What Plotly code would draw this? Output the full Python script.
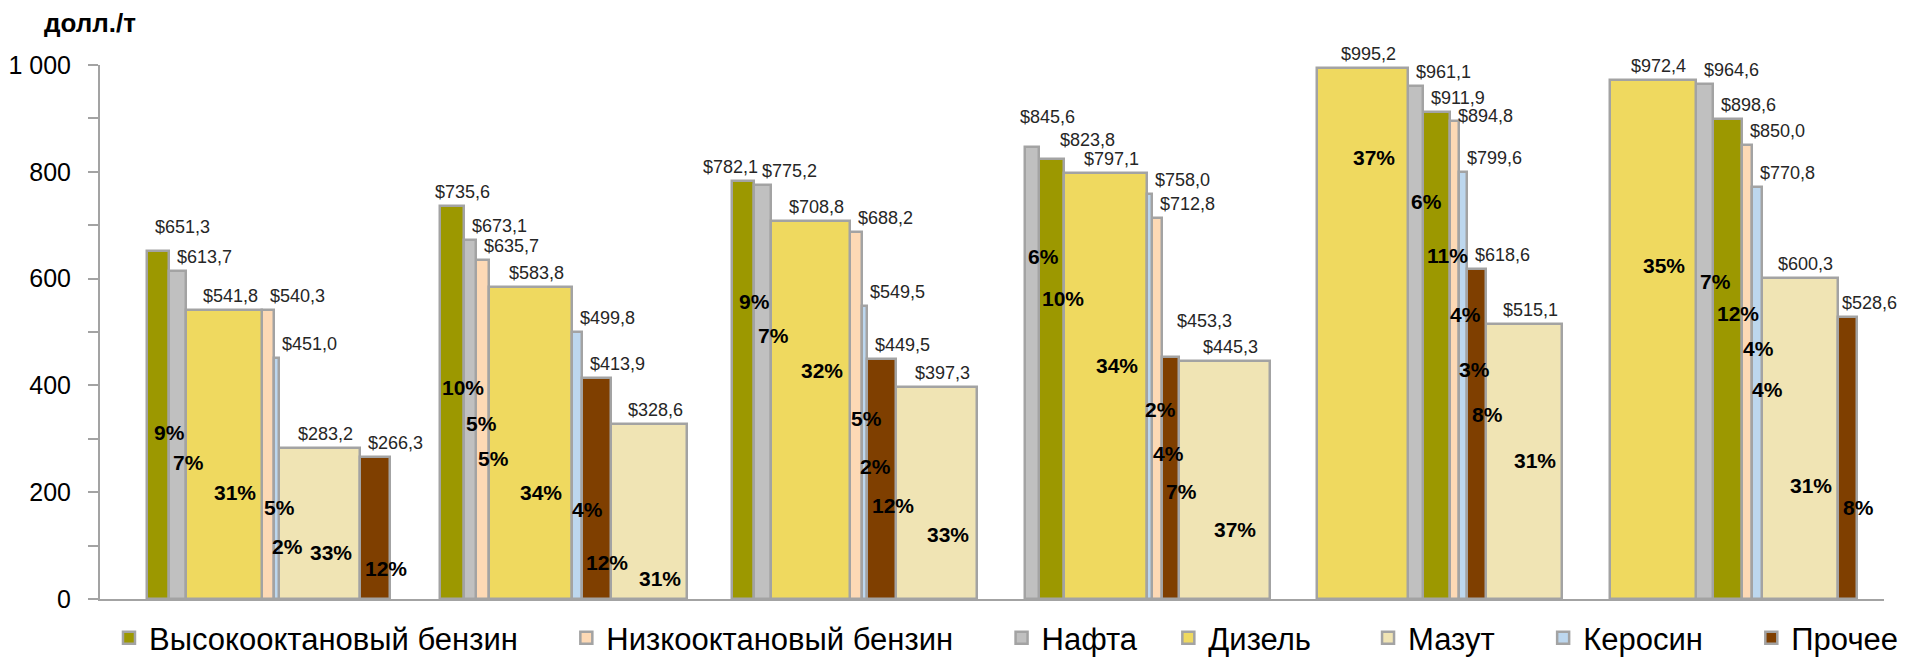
import plotly.graph_objects as go

# ---------------- data ----------------
products = ["Высокооктановый бензин", "Низкооктановый бензин", "Нафта",
            "Дизель", "Мазут", "Керосин", "Прочее"]

# price, $/t  (six groups, left to right)
high_octane = [651.3, 735.6, 782.1, 823.8, 911.9, 898.6]
low_octane = [540.3, 635.7, 688.2, 712.8, 894.8, 850.0]
naphtha = [613.7, 673.1, 775.2, 845.6, 961.1, 964.6]
diesel = [541.8, 583.8, 708.8, 797.1, 995.2, 972.4]
fuel_oil = [283.2, 328.6, 397.3, 445.3, 515.1, 600.3]
kerosene = [451.0, 499.8, 549.5, 758.0, 799.6, 770.8]
other = [266.3, 413.9, 449.5, 453.3, 618.6, 528.6]

# share of product in output, % (bar width)
high_octane_share = [9, 10, 9, 10, 11, 12]
low_octane_share = [5, 5, 5, 4, 4, 4]
naphtha_share = [7, 5, 7, 6, 6, 7]
diesel_share = [31, 34, 32, 34, 37, 35]
fuel_oil_share = [33, 31, 33, 37, 31, 31]
kerosene_share = [2, 4, 2, 2, 3, 4]
other_share = [12, 12, 12, 7, 8, 8]

# height (in axis units) at which the % labels sit
high_octane_lbl = [311, 396, 558, 562, 644, 535]
low_octane_lbl = [171, 263, 338, 272, 532, 469]
naphtha_lbl = [255, 328, 493, 642, 744, 594]
diesel_lbl = [199, 199, 427, 437, 826, 625]
fuel_oil_lbl = [88, 38, 120, 130, 259, 213]
kerosene_lbl = [98, 167, 248, 355, 430, 392]
other_lbl = [58, 69, 175, 201, 345, 171]

y_ticks = [0, 200, 400, 600, 800, 1000]
unit_label = "долл./т"

# ---------------- styling ----------------
colors = ["#9C9800", "#FDD9B5", "#C0C0C0", "#EFD95F", "#F0E4B4", "#BDD7EE", "#7F3F00"]
border = "#A3A3A3"
FONT = "Liberation Sans"
legend_pad = [4, 4, 2, 5, 4, 4, 0]  # trailing spaces after legend names

# manual pixel nudges for crowded price labels: (group, product) -> (dx, dy)
price_label_nudge = {(0, 0): (0, 10), (1, 0): (-13, 0), (2, 0): (-37, 0),
                     (3, 2): (-13, 16), (3, 0): (13, 5), (3, 6): (7, 22),
                     (4, 1): (0, -9), (5, 6): (-4, 0)}

values = [high_octane, low_octane, naphtha, diesel, fuel_oil, kerosene, other]
shares = [high_octane_share, low_octane_share, naphtha_share, diesel_share,
          fuel_oil_share, kerosene_share, other_share]
lbl_y = [high_octane_lbl, low_octane_lbl, naphtha_lbl, diesel_lbl,
         fuel_oil_lbl, kerosene_lbl, other_lbl]

n_groups = len(high_octane)
GROUP_STEP = 119.4
X_MIN, X_MAX = -19.2, 708.9
PLOT_L, PLOT_R, PLOT_T, PLOT_B = 100, 22, 65, 58
W, H = 1906, 657
plot_w = W - PLOT_L - PLOT_R
plot_h = H - PLOT_T - PLOT_B
ppu = plot_w / (X_MAX - X_MIN)  # pixels per x unit

# bar layout: within each group bars sorted by price, width = share
lefts = [[0.0] * n_groups for _ in products]
for g in range(n_groups):
    order = sorted(range(len(products)), key=lambda p: -values[p][g])
    cum = g * GROUP_STEP
    for p in order:
        lefts[p][g] = cum
        cum += shares[p][g]

fig = go.Figure()
for p, name in enumerate(products):
    centers = [lefts[p][g] + shares[p][g] / 2 for g in range(n_groups)]
    fig.add_trace(go.Bar(
        name=name + "\u00a0" * legend_pad[p],
        x=centers, y=values[p], width=shares[p],
        marker=dict(color=colors[p], line=dict(color=border, width=2.5)),
        hoverinfo="y",
    ))

annotations = []
for p in range(len(products)):
    for g in range(n_groups):
        left = lefts[p][g]
        w = shares[p][g]
        center = left + w / 2
        v = values[p][g]
        dx, dy = price_label_nudge.get((g, p), (0, 0))
        txt = "$" + f"{v:.1f}".replace(".", ",")
        fnt = dict(family=FONT, size=18, color="#262626")
        if w * ppu >= 50:
            annotations.append(dict(
                x=center, y=v, xref="x", yref="y", xanchor="center",
                yanchor="bottom", xshift=6 + dx, yshift=2 + dy,
                showarrow=False, text=txt, font=fnt))
        else:
            annotations.append(dict(
                x=left, y=v, xref="x", yref="y", xanchor="left",
                yanchor="bottom", xshift=6 + dx, yshift=2 + dy,
                showarrow=False, text=txt, font=fnt))
        # share label
        annotations.append(dict(
            x=center, y=lbl_y[p][g], xref="x", yref="y", xanchor="center",
            yanchor="middle", xshift=11, showarrow=False,
            text=f"<b>{w}%</b>",
            font=dict(family=FONT, size=21, color="#000000")))

annotations.append(dict(
    x=(42 - PLOT_L) / plot_w, y=1 + (PLOT_T - 23) / plot_h,
    xref="paper", yref="paper", xanchor="left", yanchor="middle",
    showarrow=False, text=f"<b>{unit_label}</b>",
    font=dict(family=FONT, size=26, color="#000000")))

fig.update_layout(
    width=W, height=H,
    margin=dict(l=PLOT_L, r=PLOT_R, t=PLOT_T, b=PLOT_B, autoexpand=False),
    paper_bgcolor="white", plot_bgcolor="white",
    barmode="overlay", bargap=0,
    separators=", ",
    font=dict(family=FONT, color="#000000"),
    showlegend=True,
    legend=dict(orientation="h", x=-0.00001, xanchor="left", indentation=9,
                y=-(638 - (PLOT_T + plot_h)) / plot_h, yanchor="middle",
                font=dict(family=FONT, size=31, color="#000000"),
                bgcolor="rgba(0,0,0,0)", itemclick=False),
    annotations=annotations,
)
fig.update_xaxes(range=[X_MIN, X_MAX], showline=True, linecolor=border, linewidth=2,
                 showticklabels=False, ticks="", showgrid=False, zeroline=False)
fig.update_yaxes(range=[0, 1000], showline=True, linecolor=border, linewidth=2,
                 tickvals=y_ticks, tickformat=",d", ticks="outside", ticklen=10,
                 tickwidth=2, tickcolor=border, ticklabelstandoff=12,
                 minor=dict(ticks="outside", ticklen=10, tickwidth=2,
                            tickcolor=border, dtick=100, showgrid=False),
                 showgrid=False, zeroline=False,
                 tickfont=dict(family=FONT, size=25, color="#000000"))

fig.write_html("out.html", config={"displayModeBar": False},
               post_script="document.body.style.margin='0px';")
